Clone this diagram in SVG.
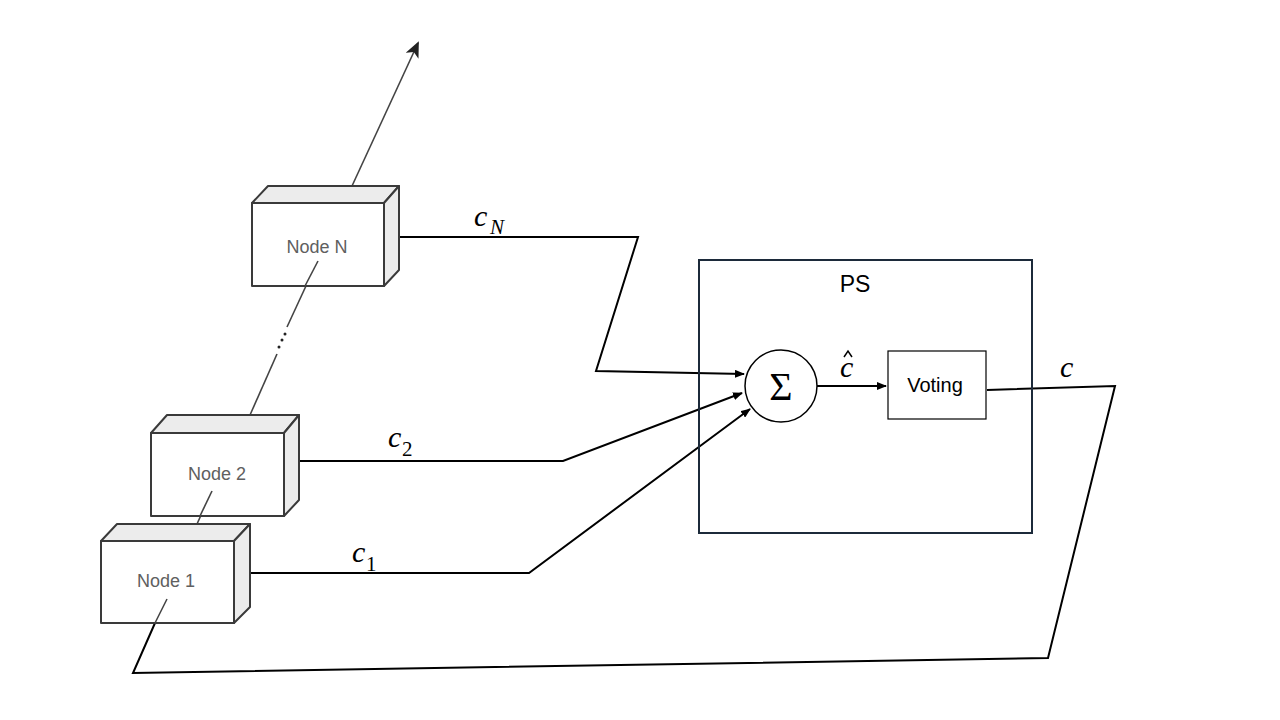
<svg xmlns="http://www.w3.org/2000/svg" width="1280" height="720" viewBox="0 0 1280 720">
<style>
.face{fill:#ffffff;stroke:#3a3a3a;stroke-width:2;stroke-linejoin:round}
.side{fill:#ececec;stroke:#3a3a3a;stroke-width:2;stroke-linejoin:round}
.nlabel{font-family:"Liberation Sans",Arial,sans-serif;font-size:18px;fill:#606060;text-anchor:middle}
.conn{fill:none;stroke:#000;stroke-width:2}
.thin{fill:none;stroke:#444;stroke-width:1.6}
.math{font-family:"Liberation Serif","DejaVu Serif",serif;font-style:italic;fill:#000}
.sub{font-family:"Liberation Serif","DejaVu Serif",serif;font-style:normal;fill:#000}
</style>
<defs>
<marker id="ah" markerWidth="10" markerHeight="8" refX="9" refY="4" orient="auto" markerUnits="userSpaceOnUse">
<path d="M0,0 L10,4 L0,8 z" fill="#000"/>
</marker>
<marker id="ahbig" markerWidth="16" markerHeight="14" refX="14" refY="7" orient="auto" markerUnits="userSpaceOnUse">
<path d="M0,0 L16,7 L0,14 L4,7 z" fill="#222"/>
</marker>
</defs>
<rect width="1280" height="720" fill="#fff"/>

<g id="connectors">
<line class="thin" x1="352" y1="186" x2="418" y2="43" marker-end="url(#ahbig)"/>
<line class="thin" x1="318" y1="260" x2="287" y2="327"/>
<circle cx="285" cy="334" r="1.5" fill="#222"/>
<circle cx="282" cy="340" r="1.5" fill="#222"/>
<circle cx="279" cy="347" r="1.5" fill="#222"/>
<line class="thin" x1="277" y1="354" x2="250" y2="415"/>
<line class="thin" x1="212" y1="491" x2="197" y2="524"/>
<polyline class="conn" points="393,237 638,237 596,371 744,374" marker-end="url(#ah)"/>
<polyline class="conn" points="293,461 563,461 742,393" marker-end="url(#ah)"/>
<polyline class="conn" points="243,573 529,573 750,409" marker-end="url(#ah)"/>
<line class="conn" x1="817" y1="386" x2="886" y2="386" stroke-width="1.6" marker-end="url(#ah)"/>
<polyline class="conn" stroke-width="1.6" points="987,390 1115,386 1048,658 133,673 155,623"/>
<line class="thin" x1="155" y1="623" x2="168" y2="598"/>
</g>

<g id="nodeN">
<polygon class="side" points="252,203 268,186 399,186 384,203"/>
<polygon class="side" points="384,203 399,186 399,270 384,286"/>
<rect class="face" x="252" y="203" width="132" height="83"/>
<text class="nlabel" x="317" y="253">Node N</text>
<line class="thin" x1="318" y1="261" x2="305" y2="286"/>
</g>

<g id="node2">
<polygon class="side" points="151,433 167,415 299,415 284,433"/>
<polygon class="side" points="284,433 299,415 299,500 284,516"/>
<rect class="face" x="151" y="433" width="133" height="83"/>
<text class="nlabel" x="217" y="480">Node 2</text>
<line class="thin" x1="212" y1="491" x2="200" y2="516"/>
</g>

<g id="node1">
<polygon class="side" points="101,541 117,524 250,524 234,541"/>
<polygon class="side" points="234,541 250,524 250,607 234,623"/>
<rect class="face" x="101" y="541" width="133" height="82"/>
<text class="nlabel" x="166" y="587">Node 1</text>
<line class="thin" x1="167" y1="599" x2="155" y2="623"/>
</g>

<g id="ps">
<rect x="699" y="260" width="333" height="273" fill="none" stroke="#1c2a3a" stroke-width="2"/>
<text x="855" y="292" font-family="'Liberation Sans',Arial,sans-serif" font-size="23" text-anchor="middle" fill="#000">PS</text>
</g>

<g id="sum">
<circle cx="781" cy="386" r="36" fill="#fff" stroke="#000" stroke-width="1.5"/>
<text x="781" y="400" font-family="'Liberation Serif','DejaVu Serif',serif" font-size="40" text-anchor="middle" fill="#000">Σ</text>
</g>

<g id="voting">
<rect x="888" y="351" width="98" height="68" fill="#fff" stroke="#000" stroke-width="1.2"/>
<text x="935" y="392" font-family="'Liberation Sans',Arial,sans-serif" font-size="20" text-anchor="middle" fill="#000">Voting</text>
</g>

<g id="labels">
<text class="math" x="474" y="226" font-size="30">c</text>
<text class="math" x="490" y="234" font-size="21">N</text>
<text class="math" x="388" y="447" font-size="30">c</text>
<text class="sub" x="402" y="456" font-size="21">2</text>
<text class="math" x="352" y="562" font-size="30">c</text>
<text class="sub" x="366" y="571" font-size="21">1</text>
<text class="math" x="840" y="377" font-size="30">c</text>
<path d="M844,357 L848,351 L852,357" fill="none" stroke="#000" stroke-width="1.5"/>
<text class="math" x="1060" y="377" font-size="30">c</text>
</g>
</svg>
